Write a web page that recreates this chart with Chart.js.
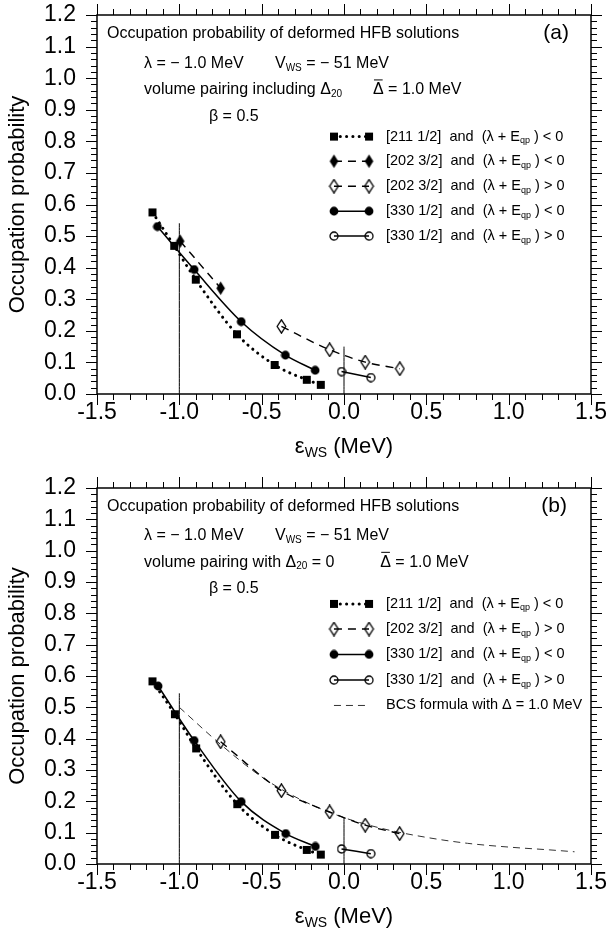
<!DOCTYPE html>
<html>
<head>
<meta charset="utf-8">
<script src="https://cdn.jsdelivr.net/npm/chart.js@4.4.0/dist/chart.umd.min.js"></script>
<style>
  html, body { margin: 0; padding: 0; background: #fff; }
  .panel { position: absolute; left: 0; width: 608px; height: 467px; }
  #panelA { top: 0; }
  #panelB { top: 467px; }
</style>
</head>
<body>
<div class="panel" id="panelA"><canvas id="chartA" width="608" height="467"></canvas></div>
<div class="panel" id="panelB"><canvas id="chartB" width="608" height="467"></canvas></div>
<script>
// axis ticks
const xTickValues = [-1.5, -1.0, -0.5, 0.0, 0.5, 1.0, 1.5];
const yTickValues = [0.0, 0.1, 0.2, 0.3, 0.4, 0.5, 0.6, 0.7, 0.8, 0.9, 1.0, 1.1, 1.2];

// panel (a): volume pairing including Delta20
const a211X = [-1.163, -1.031, -0.900, -0.650, -0.421, -0.226, -0.141];
const a211Y = [0.575, 0.469, 0.362, 0.189, 0.092, 0.045, 0.029];
const a202NegX = [-0.995, -0.749];
const a202NegY = [0.484, 0.335];
const a202PosX = [-0.380, -0.087, 0.129, 0.339];
const a202PosY = [0.214, 0.140, 0.101, 0.080];
const a330NegX = [-1.133, -0.910, -0.624, -0.356, -0.175];
const a330NegY = [0.530, 0.394, 0.229, 0.123, 0.075];
const a330PosX = [-0.015, 0.163];
const a330PosY = [0.071, 0.052];
const aMarkX = [-1.0, 0.0];
const aMarkTop = [0.541, 0.150];

// panel (b): volume pairing with Delta20 = 0
const b211X = [-1.163, -1.027, -0.898, -0.648, -0.419, -0.226, -0.141];
const b211Y = [0.583, 0.478, 0.369, 0.191, 0.093, 0.045, 0.030];
const b202PosX = [-0.749, -0.380, -0.087, 0.129, 0.338];
const b202PosY = [0.390, 0.234, 0.166, 0.124, 0.097];
const b330NegX = [-1.129, -0.910, -0.624, -0.354, -0.174];
const b330NegY = [0.568, 0.394, 0.199, 0.097, 0.056];
const b330PosX = [-0.015, 0.163];
const b330PosY = [0.048, 0.033];
const bcsX = [-1.0, -0.75, -0.5, -0.25, 0.0, 0.25, 0.5, 0.75, 1.0, 1.25, 1.4];
const bcsY = [0.500, 0.382, 0.278, 0.202, 0.148, 0.111, 0.085, 0.066, 0.054, 0.045, 0.039];
const bMarkX = [-1.0, 0.0];
const bMarkTop = [0.545, 0.149];

const FONT = "'Liberation Sans', Arial, Helvetica, sans-serif";
Chart.defaults.font.family = FONT;
Chart.defaults.color = '#000';

const pts = (xs, ys) => xs.map((v, i) => ({x: v, y: ys[i]}));

function makeMarker(kind) {
    const c = document.createElement('canvas');
    const dia = kind.indexOf('dia') === 0;
    c.width = dia ? 11 : 10;
    c.height = dia ? 15 : 10;
    const g = c.getContext('2d');
    g.fillStyle = '#000';
    g.strokeStyle = '#000';
    g.lineWidth = 1.3;
    if (kind === 'square') {
        g.fillRect(1, 1, 8, 8);
    } else if (kind === 'dot') {
        g.beginPath(); g.arc(5, 5, 4.4, 0, 2 * Math.PI); g.fill();
    } else if (kind === 'ring') {
        g.beginPath(); g.arc(5, 5, 4, 0, 2 * Math.PI); g.stroke();
    } else {
        g.beginPath();
        g.moveTo(5.5, 0.8); g.lineTo(9.8, 7.5); g.lineTo(5.5, 14.2); g.lineTo(1.2, 7.5);
        g.closePath();
        if (kind === 'diaFill') g.fill(); else g.stroke();
    }
    return c;
}
const mk = {
    square: makeMarker('square'),
    dot: makeMarker('dot'),
    ring: makeMarker('ring'),
    diaFill: makeMarker('diaFill'),
    diaOpen: makeMarker('diaOpen')
};

const styles = {
    dotted: {dash: [0.1, 6.2], width: 3, cap: 'round', color: '#000'},
    dashed: {dash: [8, 6], width: 1.4, cap: 'butt', color: '#000'},
    solid: {dash: [], width: 1.5, cap: 'butt', color: '#000'},
    bcs: {dash: [7, 5], width: 1, cap: 'butt', color: '#333'},
    thin: {dash: [], width: 1, cap: 'butt', color: '#000'}
};

function series(data, style, marker) {
    return {
        data: data,
        showLine: true,
        borderColor: style.color,
        borderWidth: style.width,
        borderDash: style.dash,
        borderCapStyle: style.cap,
        cubicInterpolationMode: 'monotone',
        pointStyle: marker || false,
        pointRadius: marker ? 5 : 0,
        pointHoverRadius: marker ? 5 : 0,
        backgroundColor: '#000'
    };
}

function markLines(xs, tops) {
    return xs.map((v, i) => series([{x: v, y: 0}, {x: v, y: tops[i]}], styles.thin, null));
}

function textWidth(ctx, parts, size) {
    let w = 0;
    parts.forEach(p => {
        ctx.font = (p[1] === 's' ? Math.round(size * 0.65) : size) + 'px ' + FONT;
        w += ctx.measureText(p[0]).width;
    });
    return w;
}

function richText(ctx, parts, px, py, size) {
    let cx = px;
    ctx.textBaseline = 'middle';
    ctx.textAlign = 'left';
    parts.forEach(p => {
        const sub = p[1] === 's';
        ctx.font = (sub ? Math.round(size * 0.65) : size) + 'px ' + FONT;
        ctx.fillText(p[0], cx, sub ? py + size * 0.28 : py);
        const w = ctx.measureText(p[0]).width;
        if (p[1] === 'o') {
            ctx.beginPath();
            ctx.lineWidth = 1;
            ctx.moveTo(cx + 1, py - size * 0.62);
            ctx.lineTo(cx + w - 1, py - size * 0.62);
            ctx.stroke();
        }
        cx += w;
    });
}

function framePlugin(notes, legendRows) {
    return {
        id: 'frame',
        afterDraw(chart) {
            const {ctx, chartArea: a, scales: {x, y}} = chart;
            ctx.save();
            ctx.strokeStyle = '#000';
            ctx.fillStyle = '#000';
            ctx.lineWidth = 1;
            ctx.beginPath();
            for (let i = 0; i <= 30; i++) {
                const px = Math.round(x.getPixelForValue(-1.5 + i * 0.1)) + 0.5;
                const len = i % 5 === 0 ? 11 : 6;
                ctx.moveTo(px, a.bottom); ctx.lineTo(px, a.bottom + len);
                ctx.moveTo(px, a.top); ctx.lineTo(px, a.top - len);
            }
            for (let i = 0; i <= 60; i++) {
                const py = Math.round(y.getPixelForValue(i * 0.02)) + 0.5;
                const len = i % 5 === 0 ? 11 : 6;
                ctx.moveTo(a.left - len, py); ctx.lineTo(a.left, py);
                ctx.moveTo(a.right, py); ctx.lineTo(a.right + len, py);
            }
            ctx.stroke();
            ctx.lineWidth = 1.5;
            ctx.strokeRect(a.left, a.top, a.right - a.left, a.bottom - a.top);

            // x axis title with subscript
            const tParts = [['ε', 'n'], ['WS', 's'], [' (MeV)', 'n']];
            const tw = textWidth(ctx, tParts, 22);
            richText(ctx, tParts, (a.left + a.right) / 2 - tw / 2, a.bottom + 53, 22);

            notes.forEach(n => {
                const px = x.getPixelForValue(n.x);
                const py = y.getPixelForValue(n.y);
                const w = n.align === 'right' ? textWidth(ctx, n.parts, n.size) : 0;
                richText(ctx, n.parts, px - w, py, n.size);
            });

            const lx0 = x.getPixelForValue(-0.061);
            const lx1 = x.getPixelForValue(0.152);
            const ltx = x.getPixelForValue(0.255);
            legendRows.forEach(r => {
                const py = y.getPixelForValue(r.y);
                ctx.save();
                ctx.strokeStyle = r.style.color;
                ctx.lineWidth = r.style.width;
                ctx.lineCap = r.style.cap;
                ctx.setLineDash(r.style.dash);
                ctx.beginPath();
                ctx.moveTo(lx0, py); ctx.lineTo(lx1, py);
                ctx.stroke();
                ctx.restore();
                if (r.marker) {
                    [lx0, lx1].forEach(mx => {
                        ctx.drawImage(r.marker, mx - r.marker.width / 2, py - r.marker.height / 2);
                    });
                }
                richText(ctx, r.parts, ltx, py, 14.5);
            });
            ctx.restore();
        }
    };
}

// the scales otherwise add label overflow on top of the layout padding
function clearPadding(s) {
    s.paddingTop = 0;
    s.paddingBottom = 0;
    s.paddingLeft = 0;
    s.paddingRight = 0;
}

function makePanel(canvasId, datasets, notes, legendRows, topPad, plotBottom) {
    const ctx = document.getElementById(canvasId).getContext('2d');
    return new Chart(ctx, {
        type: 'scatter',
        data: {datasets: datasets},
        options: {
            responsive: false,
            animation: false,
            events: [],
            layout: {padding: {left: 0, right: 17, top: topPad, bottom: 0}},
            plugins: {legend: {display: false}, tooltip: {enabled: false}},
            scales: {
                x: {
                    type: 'linear',
                    min: -1.5,
                    max: 1.5,
                    afterBuildTicks: s => { s.ticks = xTickValues.map(v => ({value: v})); },
                    afterFit: s => { s.height = 467 - plotBottom; clearPadding(s); },
                    ticks: {
                        callback: v => v.toFixed(1),
                        font: {size: 23},
                        color: '#000',
                        padding: 5,
                        maxRotation: 0,
                        autoSkip: false
                    },
                    grid: {display: false, drawTicks: false},
                    border: {display: false}
                },
                y: {
                    type: 'linear',
                    min: 0,
                    max: 1.2,
                    afterBuildTicks: s => { s.ticks = yTickValues.map(v => ({value: v})); },
                    afterFit: s => { s.width = 97; clearPadding(s); },
                    ticks: {
                        callback: v => v.toFixed(1),
                        font: {size: 23},
                        color: '#000',
                        padding: 21,
                        autoSkip: false
                    },
                    title: {
                        display: true,
                        text: 'Occupation probability',
                        font: {size: 22},
                        color: '#000',
                        padding: {top: 5, bottom: 0}
                    },
                    grid: {display: false, drawTicks: false},
                    border: {display: false}
                }
            }
        },
        plugins: [framePlugin(notes, legendRows)]
    });
}

const qp = cmp => [['and  (λ + E', 'n'], ['qp', 's'], [' ) ' + cmp + ' 0', 'n']];

// panel (a)
makePanel('chartA', [
    series(pts(a211X, a211Y), styles.dotted, mk.square),
    series(pts(a202NegX, a202NegY), styles.dashed, mk.diaFill),
    series(pts(a202PosX, a202PosY), styles.dashed, mk.diaOpen),
    series(pts(a330NegX, a330NegY), styles.solid, mk.dot),
    series(pts(a330PosX, a330PosY), styles.solid, mk.ring),
    ...markLines(aMarkX, aMarkTop)
], [
    {x: -1.439, y: 1.142, size: 16, parts: [['Occupation probability of deformed HFB solutions', 'n']]},
    {x: 1.366, y: 1.142, size: 21, align: 'right', parts: [['(a)', 'n']]},
    {x: -1.214, y: 1.047, size: 16, parts: [['λ = − 1.0 MeV', 'n']]},
    {x: -0.419, y: 1.047, size: 16, parts: [['V', 'n'], ['WS', 's'], [' = − 51 MeV', 'n']]},
    {x: -1.214, y: 0.963, size: 16, parts: [['volume pairing including Δ', 'n'], ['20', 's']]},
    {x: 0.176, y: 0.963, size: 16, parts: [['Δ', 'o'], [' = 1.0 MeV', 'n']]},
    {x: -0.82, y: 0.879, size: 16, parts: [['β = 0.5', 'n']]}
], [
    {y: 0.815, style: styles.dotted, marker: mk.square, parts: [['[211 1/2]  ', 'n'], ...qp('<')]},
    {y: 0.737, style: styles.dashed, marker: mk.diaFill, parts: [['[202 3/2]  ', 'n'], ...qp('<')]},
    {y: 0.658, style: styles.dashed, marker: mk.diaOpen, parts: [['[202 3/2]  ', 'n'], ...qp('>')]},
    {y: 0.579, style: styles.solid, marker: mk.dot, parts: [['[330 1/2]  ', 'n'], ...qp('<')]},
    {y: 0.500, style: styles.solid, marker: mk.ring, parts: [['[330 1/2]  ', 'n'], ...qp('>')]}
], 15, 394);

// panel (b)
makePanel('chartB', [
    series(pts(b211X, b211Y), styles.dotted, mk.square),
    series(pts(b202PosX, b202PosY), styles.dashed, mk.diaOpen),
    series(pts(b330NegX, b330NegY), styles.solid, mk.dot),
    series(pts(b330PosX, b330PosY), styles.solid, mk.ring),
    series(pts(bcsX, bcsY), styles.bcs, null),
    ...markLines(bMarkX, bMarkTop)
], [
    {x: -1.439, y: 1.142, size: 16, parts: [['Occupation probability of deformed HFB solutions', 'n']]},
    {x: 1.354, y: 1.142, size: 21, align: 'right', parts: [['(b)', 'n']]},
    {x: -1.214, y: 1.047, size: 16, parts: [['λ = − 1.0 MeV', 'n']]},
    {x: -0.419, y: 1.047, size: 16, parts: [['V', 'n'], ['WS', 's'], [' = − 51 MeV', 'n']]},
    {x: -1.214, y: 0.963, size: 16, parts: [['volume pairing with Δ', 'n'], ['20', 's'], [' = 0', 'n']]},
    {x: 0.22, y: 0.963, size: 16, parts: [['Δ', 'o'], [' = 1.0 MeV', 'n']]},
    {x: -0.82, y: 0.879, size: 16, parts: [['β = 0.5', 'n']]}
], [
    {y: 0.830, style: styles.dotted, marker: mk.square, parts: [['[211 1/2]  ', 'n'], ...qp('<')]},
    {y: 0.750, style: styles.dashed, marker: mk.diaOpen, parts: [['[202 3/2]  ', 'n'], ...qp('>')]},
    {y: 0.669, style: styles.solid, marker: mk.dot, parts: [['[330 1/2]  ', 'n'], ...qp('<')]},
    {y: 0.587, style: styles.solid, marker: mk.ring, parts: [['[330 1/2]  ', 'n'], ...qp('>')]},
    {y: 0.506, style: styles.bcs, marker: null, parts: [['BCS formula with Δ = 1.0 MeV', 'n']]}
], 21, 397);
</script>
</body>
</html>
